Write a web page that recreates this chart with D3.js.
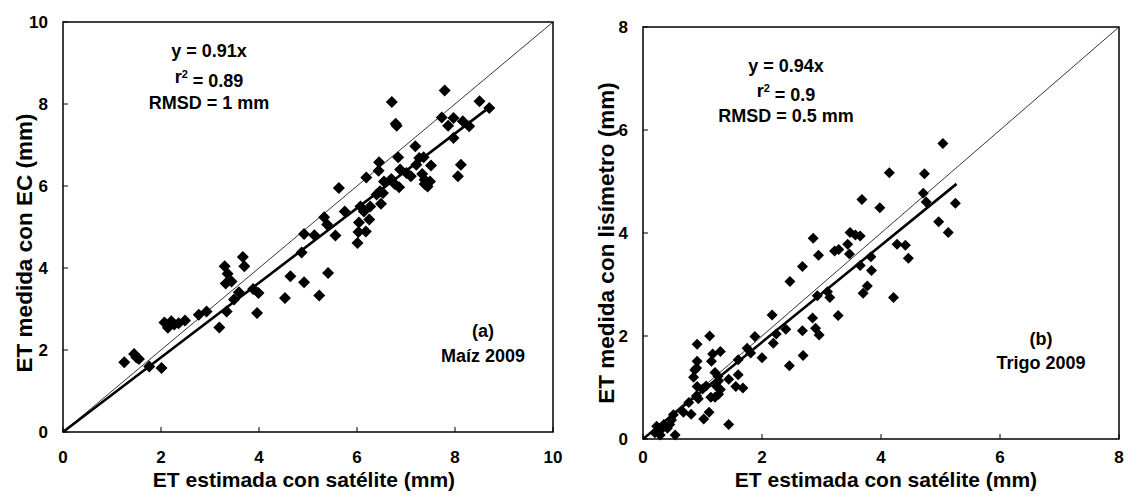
<!DOCTYPE html>
<html>
<head>
<meta charset="utf-8">
<script src="https://cdn.jsdelivr.net/npm/d3@7"></script>
<style>
  body { margin: 0; background: #fff; }
  svg text { font-family: "Liberation Sans", Arial, sans-serif; font-weight: bold; fill: #000; }
</style>
</head>
<body>
<div id="chart"></div>
<script>
// panel (a) Maíz 2009
var maizX = [1.25,1.45,1.50,1.55,1.76,2.01,2.07,2.14,2.21,2.27,2.36,2.49,2.77,2.93,3.19,3.30,3.32,3.36,3.34,3.44,
  3.49,3.59,3.67,3.70,3.88,3.99,3.96,4.53,4.64,4.92,4.87,4.92,5.13,5.23,5.33,5.39,5.41,5.56,5.63,5.75,
  6.01,6.03,6.04,6.07,6.14,6.18,6.19,6.25,6.27,6.40,6.44,6.45,6.47,6.49,6.53,6.55,6.70,6.71,6.79,6.81,
  6.77,6.84,6.86,6.88,7.01,7.10,7.19,7.21,7.27,7.33,7.36,7.38,7.38,7.44,7.49,7.51,7.73,7.79,7.86,7.97,
  7.97,8.06,8.12,8.16,8.29,8.50,8.70];
var maizY = [1.70,1.90,1.82,1.78,1.60,1.56,2.67,2.54,2.70,2.62,2.65,2.72,2.86,2.94,2.55,4.04,3.62,3.86,2.94,3.67,
  3.23,3.41,4.27,4.04,3.49,3.39,2.90,3.27,3.80,3.65,4.38,4.83,4.80,3.33,5.24,5.06,3.88,4.79,5.95,5.38,
  4.61,4.88,5.11,5.50,5.38,4.89,6.21,5.18,5.50,5.79,6.37,6.58,5.87,5.57,5.83,6.11,6.17,8.05,7.52,7.47,
  6.05,6.70,5.97,6.40,6.32,6.24,6.97,6.52,6.68,6.29,6.70,6.05,6.15,5.99,6.11,6.50,7.67,8.33,7.47,7.66,
  7.17,6.24,6.52,7.58,7.46,8.07,7.90];

// panel (b) Trigo 2009
var trigoX = [5.04,4.14,4.73,4.71,4.76,5.25,3.68,3.98,4.97,5.13,3.48,3.57,3.65,3.44,3.22,3.29,2.86,2.95,3.47,3.65,
  3.83,3.84,4.27,4.41,4.46,2.68,2.47,3.77,3.70,4.21,3.10,3.14,2.93,3.28,2.17,2.85,2.68,2.90,2.96,2.40,
  2.24,2.19,1.88,2.00,2.69,2.46,1.75,1.81,1.60,1.60,1.56,1.68,1.44,1.44,1.12,0.91,1.17,1.30,1.15,0.91,
  0.87,0.90,0.85,1.21,1.26,1.27,1.23,1.06,0.91,1.00,0.90,0.93,1.14,1.21,1.27,1.30,1.11,1.02,0.77,0.81,
  0.68,0.51,0.48,0.54,0.35,0.30,0.41,0.23,0.20,0.29,0.45,0.26];
var trigoY = [5.74,5.17,5.15,4.77,4.60,4.58,4.65,4.49,4.22,4.01,4.01,3.96,3.94,3.78,3.65,3.68,3.90,3.57,3.59,3.37,
  3.54,3.27,3.78,3.76,3.51,3.35,3.06,2.97,2.83,2.75,2.86,2.75,2.78,2.40,2.41,2.35,2.10,2.15,2.02,2.13,
  2.04,1.86,1.99,1.58,1.62,1.42,1.76,1.67,1.54,1.25,1.02,0.99,1.16,0.28,2.00,1.84,1.65,1.70,1.51,1.51,
  1.34,1.38,1.20,1.29,1.22,1.13,1.03,1.03,1.02,0.97,0.84,0.78,0.81,0.81,0.87,0.96,0.52,0.39,0.71,0.48,
  0.52,0.47,0.37,0.08,0.28,0.18,0.21,0.25,0.12,0.08,0.28,0.15];

var ticksA = [0,2,4,6,8,10];
var ticksB = [0,2,4,6,8];
var annotA = ["y = 0.91x", "r2 = 0.89", "RMSD = 1 mm"];
var annotB = ["y = 0.94x", "r2 = 0.9", "RMSD = 0.5 mm"];
var slopeA = 0.91, slopeB = 0.94;

var svg = d3.select("#chart").append("svg")
    .attr("width", 1128)
    .attr("height", 498);

function drawPanel(p){
  var x = d3.scaleLinear().domain([0, p.max]).range([p.left, p.right]);
  var y = d3.scaleLinear().domain([0, p.max]).range([p.bottom, p.top]);
  var g = svg.append("g");

  // ticks inward
  g.selectAll(".xt").data(p.ticks).enter().append("line")
    .attr("x1", function(d){ return x(d); }).attr("x2", function(d){ return x(d); })
    .attr("y1", p.bottom).attr("y2", p.bottom-5)
    .attr("stroke","#000").attr("stroke-width",1);
  g.selectAll(".yt").data(p.ticks).enter().append("line")
    .attr("y1", function(d){ return y(d); }).attr("y2", function(d){ return y(d); })
    .attr("x1", p.left).attr("x2", p.left+5)
    .attr("stroke","#000").attr("stroke-width",1);

  // tick labels
  g.selectAll(".xl").data(p.ticks).enter().append("text")
    .attr("x", function(d){ return x(d); })
    .attr("y", 457)
    .attr("dy","0.35em")
    .style("text-anchor","middle")
    .style("font-size","17px")
    .text(function(d){ return d; });
  g.selectAll(".yl").data(p.ticks).enter().append("text")
    .attr("x", p.left-15)
    .attr("y", function(d){ return y(d); })
    .attr("dy","0.35em")
    .style("text-anchor","end")
    .style("font-size","17px")
    .text(function(d){ return d; });

  // 1:1 line
  g.append("line")
    .attr("x1", x(0)).attr("y1", y(0)).attr("x2", x(p.max)).attr("y2", y(p.max))
    .attr("stroke","#000").attr("stroke-width",0.8);

  // points
  var pts = p.xs.map(function(v,i){ return [v, p.ys[i]]; });
  var r = p.r;
  g.selectAll(".pt").data(pts).enter().append("path")
    .attr("d", "M0,"+(-r)+"L"+r+",0L0,"+r+"L"+(-r)+",0Z")
    .attr("transform", function(d){ return "translate("+x(d[0])+","+y(d[1])+")"; })
    .attr("fill","#000");

  // fitted line
  g.append("line")
    .attr("x1", x(0)).attr("y1", y(0))
    .attr("x2", x(p.fitEnd)).attr("y2", y(p.fitEnd*p.slope))
    .attr("stroke","#000").attr("stroke-width",2.6);

  // frame
  g.append("rect")
    .attr("x", p.left).attr("y", p.top)
    .attr("width", p.right-p.left).attr("height", p.bottom-p.top)
    .attr("fill","none").attr("stroke","#000").attr("stroke-width",1.5);

  // annotation
  var ann = g.append("g").style("font-size","18px").style("text-anchor","middle");
  ann.append("text").attr("x", p.annX).attr("y", p.annY[0]).attr("dy","0.35em").text(p.annot[0]);
  var t2 = ann.append("text").attr("x", p.annX).attr("y", p.annY[1]).attr("dy","0.35em");
  t2.append("tspan").text("r");
  t2.append("tspan").attr("dy","-0.5em").style("font-size","11px").text("2");
  t2.append("tspan").attr("dy","0.5em").text(p.annot[1].slice(2));
  ann.append("text").attr("x", p.annX).attr("y", p.annY[2]).attr("dy","0.35em").text(p.annot[2]);

  ann.append("text").attr("x", p.labX).attr("y", p.labY[0]).attr("dy","0.35em").text(p.lab[0]);
  ann.append("text").attr("x", p.labX).attr("y", p.labY[1]).attr("dy","0.35em").text(p.lab[1]);

  // axis titles
  g.append("text")
    .attr("x", p.xTitleX).attr("y", 480).attr("dy","0.35em")
    .style("text-anchor","middle").style("font-size","21px")
    .text("ET estimada con satélite (mm)");
  g.append("text")
    .attr("transform","translate("+p.yTitleX+","+p.yTitleY+") rotate(-90)")
    .attr("dy","0.35em")
    .style("text-anchor","middle").style("font-size","22.5px")
    .text(p.yTitle);
}

drawPanel({
  left:63, right:553, top:22, bottom:432, max:10, ticks:ticksA,
  xs:maizX, ys:maizY, r:6, slope:slopeA, fitEnd:8.7,
  annot:annotA, annX:209, annY:[51,77,103],
  lab:["(a)","Maíz 2009"], labX:483, labY:[331,356],
  xTitleX:304, yTitleX:24, yTitleY:243, yTitle:"ET medida con EC (mm)"
});

drawPanel({
  left:643, right:1119, top:27, bottom:439, max:8, ticks:ticksB,
  xs:trigoX, ys:trigoY, r:5.5, slope:slopeB, fitEnd:5.27,
  annot:annotB, annX:786, annY:[66,91,116],
  lab:["(b)","Trigo 2009"], labX:1041, labY:[339,363],
  xTitleX:886, yTitleX:606, yTitleY:243, yTitle:"ET medida con lisímetro (mm)"
});
</script>
</body>
</html>
